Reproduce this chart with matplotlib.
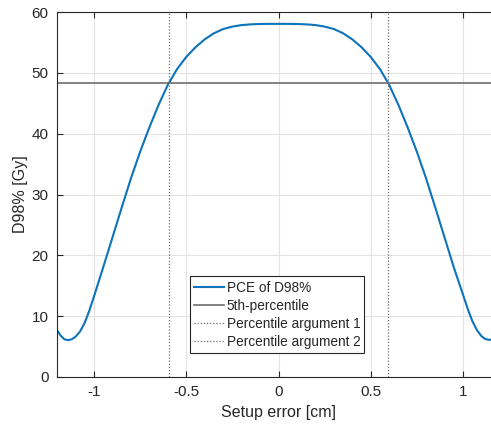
import matplotlib
matplotlib.use("Agg")
import matplotlib.pyplot as plt

# Data (PCE of D98% vs setup error)
setup_error = [-1.20, -1.18, -1.16, -1.14, -1.12, -1.10, -1.075, -1.05, -1.025, -1.00,
               -0.95, -0.90, -0.85, -0.80, -0.75, -0.70, -0.65, -0.60, -0.55, -0.50,
               -0.45, -0.40, -0.35, -0.30, -0.25, -0.20, -0.15, -0.10, -0.05, 0.00,
               0.05, 0.10, 0.15, 0.20, 0.25, 0.30, 0.35, 0.40, 0.45, 0.50,
               0.55, 0.60, 0.65, 0.70, 0.75, 0.80, 0.85, 0.90, 0.95, 1.00,
               1.025, 1.05, 1.075, 1.10, 1.12, 1.14, 1.16, 1.18, 1.20]
d98 = [7.7, 6.8, 6.2, 6.05, 6.2, 6.6, 7.5, 8.9, 10.9, 13.2,
       18.0, 22.9, 27.8, 32.6, 37.0, 41.0, 44.7, 48.0, 50.6, 52.6,
       54.2, 55.5, 56.5, 57.2, 57.6, 57.85, 57.97, 58.03, 58.05, 58.05,
       58.05, 58.03, 57.97, 57.85, 57.6, 57.2, 56.5, 55.5, 54.2, 52.6,
       50.6, 48.0, 44.7, 41.0, 37.0, 32.6, 27.8, 22.9, 18.0, 13.5,
       11.2, 9.2, 7.7, 6.7, 6.25, 6.1, 6.2, 6.7, 7.5]
percentile_5th = 48.3
percentile_args = [-0.595, 0.595]
x_ticks = [-1, -0.5, 0, 0.5, 1]
x_ticklabels = ["-1", "-0.5", "0", "0.5", "1"]
y_ticks = [0, 10, 20, 30, 40, 50, 60]

plt.rcParams['font.family'] = ['Liberation Sans', 'DejaVu Sans']
text_col = '#262626'

fig = plt.figure(figsize=(4.91, 4.28), dpi=100)
ax = fig.add_axes([57/491, 1 - 377/428, (500 - 57)/491, (377 - 12)/428])

ax.plot(setup_error, d98, color=(0.05, 0.45, 0.73), lw=1.5, label='PCE of D98%')
ax.axhline(percentile_5th, color='#6e6e6e', lw=1.2, label='5th-percentile')
ax.axvline(percentile_args[0], color='#6e6e6e', lw=0.9, ls=(0, (1, 1.5)), label='Percentile argument 1')
ax.axvline(percentile_args[1], color='#6e6e6e', lw=0.9, ls=(0, (1, 1.5)), label='Percentile argument 2')

ax.set_xlim(-1.2, 1.2)
ax.set_ylim(0, 60)
ax.set_xticks(x_ticks)
ax.set_xticklabels(x_ticklabels)
ax.set_yticks(y_ticks)
ax.grid(True, color='#e3e3e3', lw=0.8)
ax.set_axisbelow(True)
ax.tick_params(direction='in', length=4, width=0.8, colors=text_col, labelsize=11,
               top=True, right=True, pad=6)
for s in ax.spines.values():
    s.set_color(text_col)
    s.set_linewidth(0.8)

ax.set_xlabel('Setup error [cm]', fontsize=11.5, color=text_col, labelpad=4)
ax.set_ylabel('D98% [Gy]', fontsize=11.5, color=text_col, labelpad=3)

leg = ax.legend(loc='lower left', bbox_to_anchor=(0.300, 0.066), fontsize=9.8,
                frameon=True, fancybox=False, shadow=False, framealpha=1,
                edgecolor=text_col, handlelength=2.2, handletextpad=0.2,
                labelspacing=0.3, borderpad=0.3, borderaxespad=0)
leg.get_frame().set_linewidth(0.8)
for t in leg.get_texts():
    t.set_color(text_col)

fig.savefig('out.png', dpi=100)
